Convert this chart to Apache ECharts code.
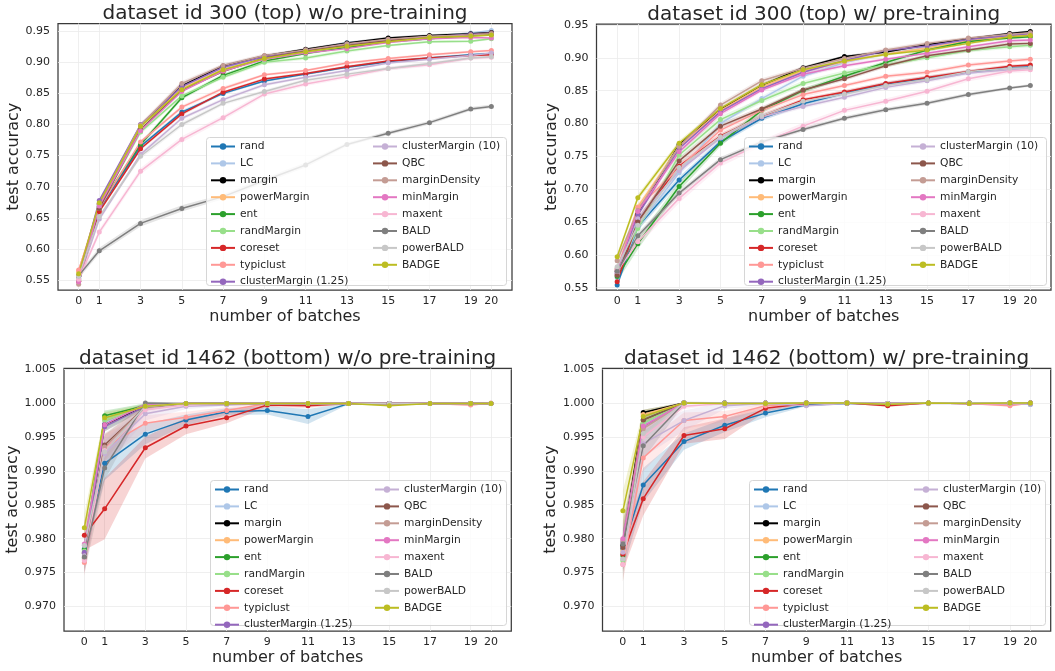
<!DOCTYPE html>
<html>
<head>
<meta charset="utf-8">
<script src="https://cdn.jsdelivr.net/npm/echarts@6/dist/echarts.min.js"></script>
<style>
html,body{margin:0;padding:0;background:#fff;}
#chart{width:1055px;height:671px;}
</style>
</head>
<body>
<div id="chart"></div>
<script>
// ---------------- DATA ----------------
const xBatches = [0, 1, 3, 5, 7, 9, 11, 13, 15, 17, 19, 20];
const xTickLabels = [0, 1, 3, 5, 7, 9, 11, 13, 15, 17, 19, 20];
const yTicksTop = [0.55, 0.60, 0.65, 0.70, 0.75, 0.80, 0.85, 0.90, 0.95];
const yTicksBottom = [0.970, 0.975, 0.980, 0.985, 0.990, 0.995, 1.000, 1.005];

const methodNames = ['rand', 'LC', 'margin', 'powerMargin', 'ent', 'randMargin', 'coreset', 'typiclust',
  'clusterMargin (1.25)', 'clusterMargin (10)', 'QBC', 'marginDensity', 'minMargin', 'maxent', 'BALD', 'powerBALD', 'BADGE'];
const methodColors = ['#1f77b4', '#aec7e8', '#000000', '#ffbb78', '#2ca02c', '#98df8a', '#d62728', '#ff9896',
  '#9467bd', '#c5b0d5', '#8c564b', '#c49c94', '#e377c2', '#f7b6d2', '#7f7f7f', '#c7c7c7', '#bcbd22'];

const panelTitles = [
  'dataset id 300 (top) w/o pre-training',
  'dataset id 300 (top) w/ pre-training',
  'dataset id 1462 (bottom) w/o pre-training',
  'dataset id 1462 (bottom) w/ pre-training'
];

// test accuracy, rows in methodNames order
const accTopNoPre = [
  [0.552,0.664,0.765,0.820,0.850,0.870,0.881,0.892,0.901,0.907,0.912,0.914],
  [0.553,0.670,0.796,0.860,0.891,0.909,0.919,0.932,0.937,0.942,0.947,0.951],
  [0.556,0.672,0.798,0.862,0.894,0.910,0.921,0.931,0.939,0.943,0.946,0.948],
  [0.564,0.673,0.797,0.858,0.889,0.906,0.917,0.926,0.934,0.940,0.943,0.944],
  [0.550,0.668,0.768,0.843,0.879,0.902,0.914,0.924,0.933,0.938,0.943,0.945],
  [0.552,0.667,0.788,0.846,0.876,0.900,0.907,0.918,0.927,0.933,0.934,0.938],
  [0.548,0.660,0.761,0.817,0.852,0.873,0.882,0.893,0.902,0.907,0.911,0.912],
  [0.566,0.665,0.772,0.828,0.858,0.880,0.887,0.899,0.906,0.912,0.917,0.919],
  [0.556,0.678,0.800,0.861,0.892,0.909,0.919,0.929,0.936,0.941,0.945,0.947],
  [0.549,0.648,0.752,0.810,0.840,0.864,0.876,0.887,0.899,0.905,0.911,0.915],
  [0.548,0.665,0.792,0.855,0.885,0.907,0.918,0.927,0.935,0.940,0.944,0.947],
  [0.543,0.672,0.799,0.866,0.895,0.911,0.920,0.930,0.937,0.942,0.944,0.946],
  [0.547,0.669,0.790,0.853,0.886,0.905,0.915,0.922,0.932,0.938,0.940,0.939],
  [0.551,0.627,0.725,0.776,0.811,0.849,0.865,0.877,0.890,0.896,0.907,0.908],
  [0.557,0.597,0.641,0.665,0.684,0.710,0.735,0.768,0.786,0.803,0.825,0.829],
  [0.556,0.652,0.749,0.800,0.834,0.853,0.871,0.881,0.890,0.898,0.907,0.909],
  [0.560,0.674,0.797,0.856,0.888,0.906,0.917,0.926,0.933,0.940,0.942,0.944]
];
const accTopPre = [
  [0.554,0.643,0.714,0.772,0.808,0.830,0.846,0.860,0.869,0.878,0.885,0.886],
  [0.565,0.643,0.725,0.800,0.838,0.872,0.893,0.906,0.916,0.927,0.934,0.936],
  [0.575,0.662,0.768,0.821,0.858,0.885,0.902,0.909,0.920,0.929,0.937,0.940],
  [0.578,0.673,0.765,0.820,0.856,0.880,0.894,0.906,0.915,0.926,0.933,0.936],
  [0.567,0.617,0.704,0.770,0.820,0.850,0.872,0.893,0.912,0.925,0.930,0.932],
  [0.580,0.640,0.752,0.806,0.835,0.861,0.877,0.889,0.900,0.911,0.917,0.919],
  [0.559,0.652,0.735,0.781,0.811,0.836,0.848,0.861,0.870,0.879,0.887,0.889],
  [0.570,0.672,0.732,0.790,0.820,0.844,0.858,0.872,0.878,0.889,0.895,0.898],
  [0.572,0.661,0.762,0.818,0.853,0.878,0.896,0.911,0.918,0.928,0.934,0.937],
  [0.571,0.655,0.728,0.778,0.810,0.826,0.840,0.855,0.865,0.877,0.882,0.884],
  [0.569,0.650,0.743,0.796,0.822,0.851,0.868,0.888,0.903,0.912,0.921,0.922],
  [0.591,0.668,0.765,0.828,0.865,0.884,0.899,0.912,0.922,0.930,0.936,0.938],
  [0.578,0.666,0.757,0.815,0.851,0.875,0.888,0.898,0.907,0.917,0.926,0.927],
  [0.575,0.620,0.686,0.740,0.770,0.796,0.820,0.834,0.849,0.868,0.880,0.882],
  [0.575,0.629,0.694,0.745,0.772,0.791,0.808,0.821,0.831,0.844,0.854,0.858],
  [0.582,0.645,0.733,0.780,0.812,0.834,0.845,0.858,0.867,0.879,0.884,0.885],
  [0.597,0.687,0.770,0.823,0.859,0.882,0.895,0.905,0.912,0.922,0.932,0.934]
];
const accBottomNoPre = [
  [0.9785,0.9911,0.9954,0.9975,0.9987,0.9989,0.9980,0.9999,0.9999,0.9999,0.9999,0.9999],
  [0.9790,0.9970,0.9995,0.9999,0.9999,0.9999,0.9999,0.9999,0.9999,0.9999,0.9999,0.9999],
  [0.9778,0.9968,0.9995,0.9999,0.9999,0.9999,0.9999,0.9999,0.9999,0.9999,0.9999,0.9999],
  [0.9780,0.9975,0.9995,0.9999,0.9999,0.9999,0.9999,0.9999,0.9998,0.9999,0.9999,0.9999],
  [0.9784,0.9981,0.9996,0.9999,0.9999,0.9999,0.9999,0.9999,0.9999,0.9999,0.9999,0.9999],
  [0.9782,0.9975,0.9996,0.9999,0.9999,0.9999,0.9999,0.9999,0.9999,0.9999,0.9999,0.9999],
  [0.9805,0.9844,0.9934,0.9966,0.9978,0.9997,0.9996,0.9999,0.9999,0.9999,0.9999,0.9999],
  [0.9765,0.9935,0.9970,0.9979,0.9989,0.9999,0.9999,0.9999,0.9999,0.9999,0.9997,1.0000],
  [0.9780,0.9965,0.9995,0.9999,0.9999,0.9999,0.9999,0.9999,0.9999,0.9999,0.9999,0.9999],
  [0.9775,0.9925,0.9984,0.9995,0.9997,0.9999,0.9999,0.9999,0.9999,0.9999,0.9999,0.9999],
  [0.9772,0.9938,0.9994,0.9999,0.9999,0.9999,0.9999,0.9999,0.9999,0.9999,0.9999,0.9999],
  [0.9770,0.9935,0.9994,0.9999,0.9999,0.9999,0.9999,0.9999,0.9999,0.9999,0.9999,0.9999],
  [0.9792,0.9968,0.9998,0.9999,0.9999,0.9999,0.9999,0.9999,0.9999,0.9999,0.9999,0.9999],
  [0.9768,0.9930,0.9990,0.9997,0.9999,0.9999,0.9999,0.9999,0.9999,0.9999,0.9999,0.9999],
  [0.9773,0.9904,1.0000,0.9999,0.9999,0.9999,0.9999,0.9999,0.9999,0.9999,0.9999,0.9999],
  [0.9790,0.9928,0.9995,0.9999,0.9999,0.9999,0.9999,0.9999,0.9999,0.9999,0.9999,0.9999],
  [0.9816,0.9978,0.9995,0.9999,0.9999,0.9999,0.9999,0.9999,0.9996,0.9999,0.9999,0.9999]
];
const accBottomPre = [
  [0.9785,0.9879,0.9943,0.9967,0.9985,0.9997,0.9999,0.9999,1.0000,0.9999,0.9999,0.9998],
  [0.9770,0.9968,1.0000,0.9999,1.0000,1.0000,1.0000,0.9999,1.0000,0.9999,0.9999,0.9998],
  [0.9790,0.9986,1.0000,1.0000,1.0000,1.0000,1.0000,0.9998,1.0000,1.0000,1.0000,1.0000],
  [0.9782,0.9983,1.0000,1.0000,1.0000,1.0000,1.0000,0.9999,1.0000,1.0000,1.0000,1.0000],
  [0.9775,0.9975,1.0000,1.0000,1.0000,1.0000,1.0000,0.9999,1.0000,1.0000,1.0000,1.0000],
  [0.9767,0.9970,1.0000,1.0000,1.0000,1.0000,1.0000,0.9999,1.0000,1.0000,1.0000,1.0000],
  [0.9777,0.9859,0.9952,0.9962,0.9992,0.9999,1.0000,0.9996,1.0000,0.9999,0.9999,1.0000],
  [0.9762,0.9919,0.9974,0.9980,0.9996,1.0000,1.0000,0.9999,1.0000,0.9999,0.9996,1.0000],
  [0.9795,0.9965,1.0000,1.0000,1.0000,1.0000,1.0000,0.9999,1.0000,1.0000,1.0000,1.0000],
  [0.9780,0.9940,0.9974,0.9996,0.9999,0.9996,0.9999,0.9999,0.9999,0.9999,0.9999,0.9998],
  [0.9787,0.9975,1.0000,1.0000,1.0000,1.0000,1.0000,0.9999,1.0000,1.0000,1.0000,1.0000],
  [0.9798,0.9962,1.0000,1.0000,1.0000,1.0000,1.0000,0.9999,1.0000,1.0000,1.0000,1.0000],
  [0.9800,0.9966,1.0000,0.9999,1.0000,1.0000,1.0000,0.9999,1.0000,0.9999,0.9999,1.0000],
  [0.9762,0.9950,0.9995,0.9999,1.0000,1.0000,1.0000,0.9999,1.0000,0.9999,0.9999,1.0000],
  [0.9792,0.9937,1.0000,1.0000,1.0000,1.0000,1.0000,0.9999,1.0000,1.0000,1.0000,1.0000],
  [0.9770,0.9955,1.0000,1.0000,1.0000,1.0000,1.0000,0.9999,1.0000,1.0000,1.0000,1.0000],
  [0.9841,0.9980,1.0000,0.9999,0.9999,1.0000,1.0000,0.9998,1.0000,0.9999,1.0000,1.0000]
];

// half-width of the shaded confidence band (null = band too thin to see), rows in methodNames order
const bandTopNoPre = [
  [0.003,0.003,0.003,0.003,0.002,0.002,0.002,0.002,0.002,0.002,0.002,0.002],
  null,
  [0.003,0.003,0.003,0.003,0.003,0.002,0.002,0.002,0.002,0.002,0.002,0.002],
  null,
  [0.004,0.004,0.004,0.003,0.003,0.002,0.002,0.002,0.002,0.002,0.002,0.002],
  [0.004,0.004,0.004,0.003,0.003,0.003,0.003,0.003,0.002,0.002,0.002,0.002],
  [0.003,0.003,0.003,0.003,0.002,0.002,0.002,0.002,0.002,0.002,0.002,0.002],
  [0.004,0.003,0.003,0.003,0.003,0.002,0.002,0.002,0.002,0.002,0.002,0.002],
  null,
  [0.004,0.004,0.004,0.003,0.003,0.003,0.002,0.002,0.002,0.002,0.002,0.002],
  null,
  [0.004,0.004,0.004,0.004,0.003,0.003,0.002,0.002,0.002,0.002,0.002,0.002],
  null,
  [0.005,0.005,0.005,0.005,0.004,0.004,0.003,0.003,0.003,0.003,0.003,0.003],
  [0.005,0.005,0.005,0.005,0.004,0.004,0.004,0.003,0.003,0.003,0.003,0.003],
  [0.004,0.004,0.004,0.004,0.003,0.003,0.003,0.003,0.003,0.003,0.003,0.003],
  [0.004,0.003,0.003,0.003,0.002,0.002,0.002,0.002,0.002,0.002,0.002,0.002]
];
const bandTopPre = [
  [0.005,0.006,0.005,0.004,0.004,0.003,0.003,0.003,0.003,0.003,0.002,0.002],
  [0.005,0.006,0.005,0.004,0.004,0.003,0.003,0.003,0.003,0.002,0.002,0.002],
  [0.004,0.004,0.003,0.003,0.003,0.002,0.002,0.002,0.002,0.002,0.002,0.002],
  [0.005,0.005,0.004,0.003,0.003,0.003,0.002,0.002,0.002,0.002,0.002,0.002],
  [0.008,0.009,0.007,0.005,0.004,0.004,0.003,0.003,0.003,0.003,0.002,0.002],
  [0.006,0.007,0.006,0.005,0.004,0.004,0.004,0.003,0.003,0.003,0.003,0.003],
  [0.005,0.006,0.005,0.004,0.004,0.003,0.003,0.003,0.003,0.003,0.003,0.002],
  [0.005,0.006,0.005,0.004,0.004,0.004,0.003,0.003,0.003,0.003,0.003,0.003],
  [0.004,0.005,0.004,0.004,0.003,0.003,0.003,0.002,0.002,0.002,0.002,0.002],
  [0.005,0.006,0.005,0.004,0.004,0.003,0.003,0.003,0.003,0.003,0.003,0.003],
  [0.005,0.006,0.005,0.004,0.004,0.003,0.003,0.003,0.003,0.003,0.003,0.003],
  [0.005,0.005,0.004,0.004,0.004,0.003,0.003,0.003,0.003,0.002,0.002,0.002],
  [0.005,0.005,0.004,0.004,0.003,0.003,0.003,0.002,0.002,0.002,0.002,0.002],
  [0.006,0.007,0.007,0.006,0.005,0.005,0.004,0.004,0.004,0.004,0.004,0.004],
  [0.005,0.005,0.004,0.004,0.003,0.003,0.003,0.003,0.003,0.003,0.002,0.002],
  [0.005,0.006,0.005,0.004,0.004,0.003,0.003,0.003,0.003,0.003,0.003,0.003],
  [0.005,0.005,0.004,0.003,0.003,0.003,0.002,0.002,0.002,0.002,0.002,0.002]
];
const bandBottomNoPre = [
  [0.0012,0.0025,0.0015,0.0008,0.0005,0.0006,0.0011,0.0001,0.0001,0.0001,0.0001,0.0001],
  [0.0015,0.0010,0.0004,0.0001,0.0001,0.0001,0.0001,0.0001,0.0001,0.0001,0.0001,0.0001],
  [0.0015,0.0010,0.0004,0.0001,0.0001,0.0001,0.0001,0.0001,0.0001,0.0001,0.0001,0.0001],
  null,
  [0.0012,0.0008,0.0003,0.0001,0.0001,0.0001,0.0001,0.0001,0.0001,0.0001,0.0001,0.0001],
  [0.0015,0.0012,0.0004,0.0001,0.0001,0.0001,0.0001,0.0001,0.0001,0.0001,0.0001,0.0001],
  [0.0022,0.0045,0.0016,0.0012,0.0008,0.0003,0.0003,0.0001,0.0001,0.0001,0.0001,0.0001],
  [0.0020,0.0020,0.0012,0.0008,0.0005,0.0002,0.0001,0.0001,0.0001,0.0001,0.0002,0.0001],
  null,
  [0.0020,0.0020,0.0010,0.0004,0.0002,0.0001,0.0001,0.0001,0.0001,0.0001,0.0001,0.0001],
  [0.0020,0.0015,0.0005,0.0001,0.0001,0.0001,0.0001,0.0001,0.0001,0.0001,0.0001,0.0001],
  [0.0020,0.0020,0.0006,0.0001,0.0001,0.0001,0.0001,0.0001,0.0001,0.0001,0.0001,0.0001],
  null,
  [0.0020,0.0020,0.0008,0.0003,0.0001,0.0001,0.0001,0.0001,0.0001,0.0001,0.0001,0.0001],
  [0.0025,0.0018,0.0002,0.0001,0.0001,0.0001,0.0001,0.0001,0.0001,0.0001,0.0001,0.0001],
  [0.0015,0.0018,0.0005,0.0001,0.0001,0.0001,0.0001,0.0001,0.0001,0.0001,0.0001,0.0001],
  [0.0020,0.0008,0.0003,0.0001,0.0001,0.0001,0.0001,0.0001,0.0001,0.0001,0.0002,0.0001]
];
const bandBottomPre = [
  [0.0030,0.0025,0.0012,0.0010,0.0006,0.0002,0.0001,0.0001,0.0001,0.0001,0.0001,0.0001],
  [0.0025,0.0012,0.0001,0.0001,0.0001,0.0001,0.0001,0.0001,0.0001,0.0001,0.0001,0.0001],
  [0.0020,0.0004,0.0001,0.0001,0.0001,0.0001,0.0001,0.0001,0.0001,0.0001,0.0001,0.0001],
  null,
  [0.0025,0.0010,0.0001,0.0001,0.0001,0.0001,0.0001,0.0001,0.0001,0.0001,0.0001,0.0001],
  [0.0030,0.0012,0.0001,0.0001,0.0001,0.0001,0.0001,0.0001,0.0001,0.0001,0.0001,0.0001],
  [0.0025,0.0025,0.0012,0.0015,0.0005,0.0001,0.0001,0.0002,0.0001,0.0001,0.0001,0.0001],
  [0.0025,0.0020,0.0012,0.0008,0.0004,0.0001,0.0001,0.0001,0.0001,0.0001,0.0002,0.0001],
  null,
  [0.0025,0.0020,0.0015,0.0005,0.0002,0.0002,0.0001,0.0001,0.0001,0.0001,0.0001,0.0001],
  [0.0025,0.0010,0.0001,0.0001,0.0001,0.0001,0.0001,0.0001,0.0001,0.0001,0.0001,0.0001],
  [0.0025,0.0015,0.0001,0.0001,0.0001,0.0001,0.0001,0.0001,0.0001,0.0001,0.0001,0.0001],
  [0.0020,0.0012,0.0001,0.0001,0.0001,0.0001,0.0001,0.0001,0.0001,0.0001,0.0001,0.0001],
  [0.0025,0.0015,0.0004,0.0001,0.0001,0.0001,0.0001,0.0001,0.0001,0.0001,0.0001,0.0001],
  [0.0035,0.0020,0.0002,0.0001,0.0001,0.0001,0.0001,0.0001,0.0001,0.0001,0.0001,0.0001],
  [0.0030,0.0015,0.0001,0.0001,0.0001,0.0001,0.0001,0.0001,0.0001,0.0001,0.0001,0.0001],
  [0.0030,0.0010,0.0001,0.0001,0.0001,0.0001,0.0001,0.0001,0.0001,0.0001,0.0001,0.0001]
];

// ---------------- LAYOUT ----------------
const FONT = 'DejaVu Sans';
const panels = [
  { acc: accTopNoPre, band: bandTopNoPre, grid: {left: 58, top: 23.5, width: 454, height: 266.5},
    yMin: 0.5339, yMax: 0.9624, yTicks: yTicksTop, dec: 2, yNameGap: 36.5, legendBox: [206, 137, 300, 148], col2: 162 },
  { acc: accTopPre, band: bandTopPre, grid: {left: 596.5, top: 24, width: 454.5, height: 266},
    yMin: 0.5465, yMax: 0.9515, yTicks: yTicksTop, dec: 2, yNameGap: 35.5, legendBox: [744, 137, 302, 148], col2: 162 },
  { acc: accBottomNoPre, band: bandBottomNoPre, grid: {left: 64, top: 368.3, width: 447.3, height: 262.7},
    yMin: 0.96640, yMax: 1.00510, yTicks: yTicksBottom, dec: 3, yNameGap: 42.5, legendBox: [210, 480, 296, 145], col2: 160 },
  { acc: accBottomPre, band: bandBottomPre, grid: {left: 602.5, top: 368.3, width: 448.2, height: 262.7},
    yMin: 0.96640, yMax: 1.00510, yTicks: yTicksBottom, dec: 3, yNameGap: 42, legendBox: [749, 480, 296, 145], col2: 160 }
];

const textColor = '#262626';

const option = {
  animation: false,
  backgroundColor: '#ffffff',
  textStyle: { fontFamily: FONT },
  title: [], grid: [], xAxis: [], yAxis: [], legend: [], series: [],
  graphic: { elements: [] }
};

function bandRenderer(vals, band, color) {
  return function (params, api) {
    const upper = xBatches.map((x, j) => api.coord([x, vals[j] + band[j]]));
    const lower = xBatches.map((x, j) => api.coord([x, vals[j] - band[j]])).reverse();
    const cs = params.coordSys;
    return {
      type: 'polygon',
      shape: { points: upper.concat(lower) },
      style: { fill: color, opacity: 0.2 },
      clipPath: { type: 'rect', shape: { x: cs.x, y: cs.y, width: cs.width, height: cs.height } }
    };
  };
}

panels.forEach((p, pi) => {
  const g = p.grid;
  option.grid.push({
    left: g.left, top: g.top, width: g.width, height: g.height,
    show: true, borderColor: '#3a3a3a', borderWidth: 1.25, backgroundColor: 'transparent'
  });
  option.title.push({
    text: panelTitles[pi],
    left: g.left + g.width / 2, textAlign: 'center',
    top: g.top - 19.5, padding: 0,
    textStyle: { fontFamily: FONT, fontSize: 20, fontWeight: 'normal', color: textColor }
  });
  option.xAxis.push({
    type: 'value', gridIndex: pi, min: -1, max: 21,
    name: 'number of batches', nameLocation: 'middle', nameGap: 19,
    nameTextStyle: { fontFamily: FONT, fontSize: 16, color: textColor },
    axisLine: { show: false },
    axisTick: { show: false, customValues: xTickLabels },
    axisLabel: { customValues: xTickLabels, fontFamily: FONT, fontSize: 11, color: textColor, margin: 6 },
    splitLine: { show: true, lineStyle: { color: '#ebebeb', width: 0.8 } }
  });
  option.yAxis.push({
    type: 'value', gridIndex: pi, min: p.yMin, max: p.yMax,
    name: 'test accuracy', nameLocation: 'middle', nameGap: p.yNameGap,
    nameTextStyle: { fontFamily: FONT, fontSize: 16, color: textColor },
    axisLine: { show: false },
    axisTick: { show: false, customValues: p.yTicks },
    axisLabel: { customValues: p.yTicks, fontFamily: FONT, fontSize: 11, color: textColor, margin: 8,
      formatter: v => v.toFixed(p.dec) },
    splitLine: { show: true, lineStyle: { color: '#ebebeb', width: 0.8 } }
  });

  // confidence bands (drawn below lines)
  methodNames.forEach((name, mi) => {
    const band = p.band[mi];
    if (!band) return;
    const vals = p.acc[mi];
    option.series.push({
      type: 'custom', name: name + ' band', xAxisIndex: pi, yAxisIndex: pi,
      data: [[xBatches[0], vals[0]]],
      renderItem: bandRenderer(vals, band, methodColors[mi]),
      silent: true, z: 1
    });
  });
  methodNames.forEach((name, mi) => {
    const vals = p.acc[mi];
    option.series.push({
      type: 'line', name: name, xAxisIndex: pi, yAxisIndex: pi,
      data: xBatches.map((x, j) => [x, vals[j]]),
      symbol: 'circle', symbolSize: 5, showSymbol: true,
      color: methodColors[mi],
      lineStyle: { width: 1.5, color: methodColors[mi] },
      itemStyle: { color: methodColors[mi] },
      z: 2
    });
  });

  const lb = p.legendBox;
  option.graphic.elements.push({
    type: 'rect', left: lb[0], top: lb[1], z: 3,
    shape: { width: lb[2], height: lb[3], r: 3 },
    style: { fill: 'rgba(255,255,255,0.8)', stroke: '#d6d6d6', lineWidth: 1 }
  });
  const legendCommon = {
    orient: 'vertical', top: lb[1] + 4, padding: 0, itemGap: 5.9,
    itemWidth: 24, itemHeight: 8, z: 4,
    textStyle: { fontFamily: FONT, fontSize: 10.7, color: textColor, lineHeight: 10 },
    inactiveColor: '#ccc'
  };
  option.legend.push(Object.assign({}, legendCommon, { left: lb[0] + 4, data: methodNames.slice(0, 9) }));
  option.legend.push(Object.assign({}, legendCommon, { left: lb[0] + 4 + p.col2, data: methodNames.slice(9) }));
});

const chart = echarts.init(document.getElementById('chart'), null, { renderer: 'canvas' });
chart.setOption(option);
</script>
</body>
</html>
